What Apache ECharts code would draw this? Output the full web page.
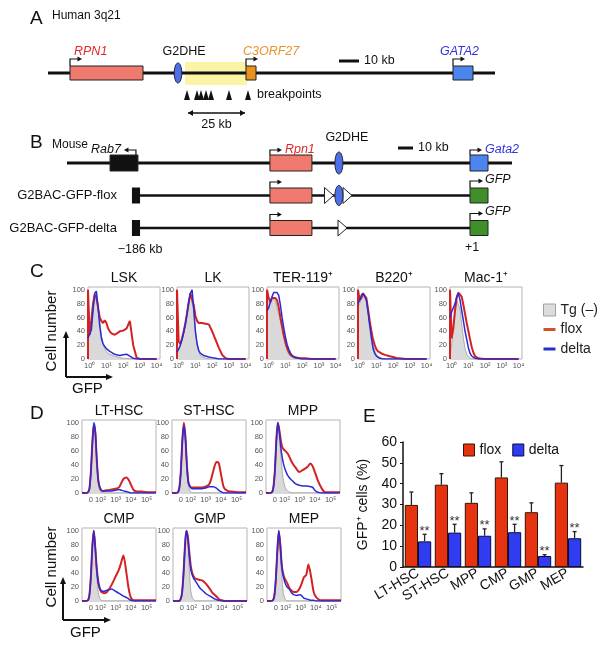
<!DOCTYPE html>
<html><head><meta charset="utf-8">
<script src="https://cdn.jsdelivr.net/npm/echarts@6/dist/echarts.min.js"></script>
<style>html,body{margin:0;padding:0;background:#fff}#c{width:616px;height:648px}</style>
</head><body><div id="c"></div>
<script>
// ---------------- DATA ----------------
// Panel A: human 3q21 (kb along drawn segment)
const humanSpanKb = [0, 223.5];
const humanGeneNames = ['RPN1', 'C3ORF27', 'GATA2'];
const humanGeneStartKb = [11, 99, 202.5];
const humanGeneEndKb = [47.5, 104, 212.5];
const humanEnhancerKb = [65];
const humanRegionKb = [68.5, 99.5];
const humanBreakpointsKb = [69.5, 74.5, 76.5, 79, 81.5, 90.5, 100];
const humanScaleBarKb = [145.5, 155.5];
const humanSpacingKb = [70, 98.5];
// Panel B: mouse locus and transgenes
const mouseSpanKb = [0, 296.7];
const mouseGeneNames = ['Rab7', 'Rpn1', 'Gata2'];
const mouseGeneStartKb = [28.7, 135.3, 268.7];
const mouseGeneEndKb = [47.3, 163.3, 280.7];
const mouseEnhancerKb = [181.3];
const mouseScaleBarKb = [220.7, 230.7];
const bacRows = ['G2BAC-GFP-flox', 'G2BAC-GFP-delta'];
const bacCapKb = [43.3, 48.7];
const bacRpn1Kb = [135.3, 163.3];
const bacGfpKb = [268.7, 280.7];
const floxLoxPKb = [174.7, 187];
const floxEnhancerKb = [181.3];
const deltaLoxPKb = [183.7];

// Panel C histograms (x = log10 GFP)
const cX = [-0.1,-0.1,0,0.1,0.2,0.3,0.4,0.5,0.6,0.7,0.8,0.9,1.0,1.1,1.2,1.3,1.4,1.5,1.6,1.8,2.0,2.2,2.4,2.6,2.8,3.0,3.5,4.0];
const cPanels = ['LSK', 'LK', 'TER-119⁺', 'B220⁺', 'Mac-1⁺'];
const lskGray = [33,33,35,45,70,92,95,78,55,35,22,15,11,8,7,6,5,4,3,2,1,1,0,0,0,0,0,0];
const lskBlue = [30,30,32,42,70,95,98,75,48,30,22,18,15,13,11,9,8,7,6,5,6,7,4,1,0,0,0,0];
const lskRed  = [0,100,35,55,80,93,88,75,60,55,52,56,52,44,40,37,35,35,36,40,41,44,55,20,2,0,0,0];
const lkGray  = [12,12,15,20,28,38,50,65,80,93,95,70,40,20,10,5,3,2,1,0,0,0,0,0,0,0,0,0];
const lkBlue  = [10,10,14,20,28,38,50,66,82,95,100,72,40,22,12,8,6,5,4,3,2,1,0,0,0,0,0,0];
const lkRed   = [0,100,25,22,30,40,52,66,82,95,97,78,62,55,52,53,52,53,51,50,40,28,16,6,1,0,0,0];
const terGray = [80,80,82,85,88,88,85,75,65,55,45,32,21,13,7,4,2,1,0,0,0,0,0,0,0,0,0,0];
const terBlue = [70,70,74,82,90,96,98,96,92,78,60,45,32,21,14,9,5,3,2,1,0,0,0,0,0,0,0,0];
const terRed  = [0,100,88,82,88,90,88,85,75,60,47,34,24,16,10,6,4,3,2,1.5,1,1,0.5,0,0,0,0,0];
const b220Gray = [75,75,80,88,93,94,85,70,52,35,22,12,7,4,2,1,0,0,0,0,0,0,0,0,0,0,0,0];
const b220Blue = [80,80,85,92,95,96,85,68,48,30,15,8,4,2,1,0.5,0,0,0,0,0,0,0,0,0,0,0,0];
const b220Red  = [0,100,85,88,95,96,88,72,55,40,28,20,14,11,9,8,7,6,5,4,3,1.5,1,0.5,0,0,0,0];
const macGray = [5,5,20,50,75,85,85,72,50,30,15,7,3,1,0,0,0,0,0,0,0,0,0,0,0,0,0,0];
const macBlue = [60,60,68,70,80,90,95,85,70,55,40,28,16,8,4,2,1,0,0,0,0,0,0,0,0,0,0,0];
const macRed  = [0,100,30,45,70,88,96,98,90,78,65,52,40,28,17,9,4,2,1,0.5,0,0,0,0,0,0,0,0];
const cTickValues = [0, 1, 2, 3, 4];
const cTickLabels = ['10⁰', '10¹', '10²', '10³', '10⁴'];

// Panel D histograms (x = fraction of biexponential display)
const dX = [0,.05,.08,.10,.12,.14,.16,.18,.20,.22,.24,.26,.28,.30,.33,.36,.40,.45,.50,.53,.56,.60,.63,.66,.70,.75,.80,.90,1.0];
const dPanels = ['LT-HSC', 'ST-HSC', 'MPP', 'CMP', 'GMP', 'MEP'];
const ltGray = [0,0,1,6,30,70,95,85,45,15,4,1,0,0,0,0,0,0,0,0,0,0,0,0,0,0,0,0,0];
const ltBlue = [0,0,1,6,30,72,100,88,48,18,8,4,3,3,3,3,3,4,5,4,3,2,1,0,0,0,0,0,0];
const ltRed  = [0,0,1,6,30,70,97,86,46,18,8,4,3,3,4,4,5,6,8,14,20,22,19,12,4,2,2,1,1];
const stGray = [0,0,1,8,32,72,95,78,38,12,4,1,0,0,0,0,0,0,0,0,0,0,0,0,0,0,0,0,0];
const stBlue = [0,0,1,8,32,75,96,80,42,16,10,7,6,6,6,6,6,7,9,9,9,7,4,2,0,0,0,0,0];
const stRed  = [0,0,1,8,32,75,100,82,42,16,10,8,8,8,8,8,8,9,12,20,32,44,43,28,8,3,2,1,1];
const mppGray = [0,0,1,8,32,72,95,80,55,30,15,8,4,2,1,0,0,0,0,0,0,0,0,0,0,0,0,0,0];
const mppBlue = [0,0,1,8,32,75,100,88,65,50,40,33,28,24,20,17,13,11,10,10,10,9,8,4,1,0,0,0,0];
const mppRed  = [0,0,1,8,32,75,100,90,75,65,62,60,58,55,48,42,36,30,33,35,37,42,38,30,18,7,1,1,1];
const cmpGray = [0,0,1,8,35,75,95,75,35,12,4,1,0,0,0,0,0,0,0,0,0,0,0,0,0,0,0,0,0];
const cmpBlue = [0,0,1,8,35,78,100,75,45,25,18,15,14,14,15,16,17,14,11,9,7,5,3,1,0,0,0,0,0];
const cmpRed  = [0,0,1,8,35,78,100,75,45,28,18,13,12,11,12,16,23,34,45,55,65,40,18,5,1,1,1,1,1];
const gmpGray = [0,0,0,2,10,35,72,95,85,45,15,5,2,0,0,0,0,0,0,0,0,0,0,0,0,0,0,0,0];
const gmpBlue = [0,0,0,2,10,35,75,100,90,65,45,37,32,29,24,19,15,10,7,5,3,1.5,1,0,0,0,0,0,0];
const gmpRed  = [0,0,0,2,10,35,75,100,92,70,50,40,35,32,31,30,29,24,17,12,9,5,2,1,0,0,0,0,0];
const mepGray = [0,0,1,8,30,68,88,70,35,12,4,1,0,0,0,0,0,0,0,0,0,0,0,0,0,0,0,0,0];
const mepBlue = [0,0,1,8,32,72,100,80,50,35,27,22,19,17,12,9,8,9,4,3,2,1,1,0,0,0,0,0,0];
const mepRed  = [0,0,1,8,32,72,100,80,50,38,32,28,24,19,15,13,13,20,34,37,52,32,13,6,2,1,1,1,1];
const dTickValues = [0.118, 0.25, 0.455, 0.66, 0.873];
const dTickLabels = ['0', '10²', '10³', '10⁴', '10⁵'];
const histYTicks = [0, 20, 40, 60, 80, 100];

// Panel E bars
const eCategories = ['LT-HSC', 'ST-HSC', 'MPP', 'CMP', 'GMP', 'MEP'];
const floxPct = [29.8, 39.5, 30.8, 43, 26.3, 40.5];
const floxErr = [6.2, 5.3, 4.8, 7.5, 4.5, 8.2];
const deltaPct = [12.3, 16.5, 15, 16.7, 5.3, 13.8];
const deltaErr = [3.4, 4, 3.3, 3.8, 0.6, 3.2];
const deltaSig = ['**', '**', '**', '**', '**', '**'];

// ---------------- STYLE / LAYOUT ----------------
const FONT = "'Liberation Sans', Arial, Helvetica, sans-serif";
const RED = '#d42222', BLUE = '#2a2ad6';
const LAB = 12.5;
const grids = [], xAxes = [], yAxes = [], series = [], graphics = [];

function gtext(text, x, y, size, opts) {
  opts = opts || {};
  graphics.push({type: 'text', x: x, y: y, rotation: opts.rotation || 0, silent: true,
    style: {text: text, font: (opts.italic ? 'italic ' : '') + size + 'px ' + FONT, fill: opts.color || '#111',
      align: opts.align || 'left', verticalAlign: 'middle', textAlign: opts.align || 'left', textVerticalAlign: 'middle'}});
}
function garrow(x1, y1, x2, y2) {
  graphics.push({type: 'line', silent: true, shape: {x1: x1, y1: y1, x2: x2, y2: y2}, style: {stroke: '#111', lineWidth: 2}});
  const dx = x2 - x1, dy = y2 - y1, L = Math.hypot(dx, dy), ux = dx / L, uy = dy / L;
  graphics.push({type: 'polygon', silent: true, shape: {points: [[x2 + ux * 3, y2 + uy * 3], [x2 - ux * 4 - uy * 3, y2 - uy * 4 + ux * 3], [x2 - ux * 4 + uy * 3, y2 - uy * 4 - ux * 3]]}, style: {fill: '#111'}});
}

function addHist(title, left, top, w, h, xs, gray, red, blue, xmin, xmax, tickVals, tickLabels, smooth) {
  const gi = grids.length;
  grids.push({left: left, top: top, width: w, height: h, show: true, borderColor: '#b4b4b4', borderWidth: 1, backgroundColor: '#fff'});
  xAxes.push({gridIndex: gi, type: 'value', min: xmin, max: xmax, axisLine: {show: false}, axisTick: {show: false}, splitLine: {show: false},
    axisLabel: {customValues: tickVals, fontSize: 7.5, color: '#555', margin: 3, fontFamily: FONT,
      formatter: function (v) { const k = tickVals.findIndex(t => Math.abs(t - v) < 1e-6); return k >= 0 ? tickLabels[k] : ''; }}});
  yAxes.push({gridIndex: gi, type: 'value', min: 0, max: 104, axisLine: {show: false}, axisTick: {show: false}, splitLine: {show: false},
    axisLabel: {customValues: histYTicks, fontSize: 7.5, color: '#555', margin: 3, fontFamily: FONT}});
  const mk = ys => xs.map((x, i) => [x, ys[i]]);
  series.push({name: 'Tg (–)', type: 'line', xAxisIndex: gi, yAxisIndex: gi, data: mk(gray), symbol: 'none', smooth: smooth, silent: true, z: 2,
    itemStyle: {color: '#d9d9d9'}, lineStyle: {color: '#9c9c9c', width: 0.8}, areaStyle: {color: '#d9d9d9', opacity: 1}});
  series.push({name: 'flox', type: 'line', xAxisIndex: gi, yAxisIndex: gi, data: mk(red), symbol: 'none', smooth: smooth, silent: true, z: 3,
    itemStyle: {color: RED}, lineStyle: {color: RED, width: 2}});
  series.push({name: 'delta', type: 'line', xAxisIndex: gi, yAxisIndex: gi, data: mk(blue), symbol: 'none', smooth: smooth, silent: true, z: 4,
    itemStyle: {color: BLUE}, lineStyle: {color: BLUE, width: 1.5}});
  gtext(title, left + w / 2, top - 9, 14, {align: 'center'});
}

// C panels
const cData = [[lskGray, lskRed, lskBlue], [lkGray, lkRed, lkBlue], [terGray, terRed, terBlue], [b220Gray, b220Red, b220Blue], [macGray, macRed, macBlue]];
const cLeft = [88, 177, 267, 358, 450];
cPanels.forEach((t, i) => addHist(t, cLeft[i], 287, 72, 72, cX, cData[i][0], cData[i][1], cData[i][2], -0.1, 4.2, cTickValues, cTickLabels, false));
// D panels
const dData = [[ltGray, ltRed, ltBlue], [stGray, stRed, stBlue], [mppGray, mppRed, mppBlue], [cmpGray, cmpRed, cmpBlue], [gmpGray, gmpRed, gmpBlue], [mepGray, mepRed, mepBlue]];
const dLeft = [82, 172, 266, 82, 173, 267], dTop = [420, 420, 420, 528, 528, 528];
dPanels.forEach((t, i) => addHist(t, dLeft[i], dTop[i], 74, 73, dX, dData[i][0], dData[i][1], dData[i][2], 0, 1, dTickValues, dTickLabels, 0.25));

// E panel
const E = grids.length;
grids.push({left: 403, top: 442, width: 180, height: 125});
xAxes.push({gridIndex: E, type: 'category', data: eCategories, axisLine: {lineStyle: {color: '#111', width: 1.5}}, axisTick: {show: false},
  axisLabel: {rotate: 30, interval: 0, fontSize: 14, color: '#111', margin: 5, fontFamily: FONT}});
yAxes.push({gridIndex: E, type: 'value', min: 0, max: 60, interval: 10, axisLine: {show: true, lineStyle: {color: '#111', width: 1.5}},
  axisTick: {show: true, length: 3, lineStyle: {color: '#111'}}, splitLine: {show: false},
  axisLabel: {fontSize: 14, color: '#111', margin: 6, fontFamily: FONT},
  name: 'GFP⁺ cells (%)', nameLocation: 'middle', nameGap: 33, nameTextStyle: {fontSize: 14, color: '#111', fontFamily: FONT}});
series.push({name: 'flox', type: 'bar', xAxisIndex: E, yAxisIndex: E, data: floxPct, barGap: '0%', barCategoryGap: '12%', silent: true,
  itemStyle: {color: '#e6330f', borderColor: '#3a1206', borderWidth: 1}});
series.push({name: 'delta', type: 'bar', xAxisIndex: E, yAxisIndex: E, data: deltaPct, silent: true,
  itemStyle: {color: '#2f3cf0', borderColor: '#0b0b40', borderWidth: 1}});
function errSeries(vals, errs, side, sig) {
  series.push({type: 'custom', xAxisIndex: E, yAxisIndex: E, silent: true, z: 5,
    data: vals.map((v, i) => [i, v, v + errs[i]]), encode: {x: 0, y: [1, 2]},
    renderItem: function (p, api) {
      const band = api.size([1, 0])[0], bw = band * 0.88 / 2;
      const base = api.coord([api.value(0), api.value(1)]), top = api.coord([api.value(0), api.value(2)]);
      const x = base[0] + side * bw / 2;
      const ch = [{type: 'line', shape: {x1: x, y1: base[1], x2: x, y2: top[1]}, style: {stroke: '#222', lineWidth: 1.3}},
                  {type: 'line', shape: {x1: x - 2, y1: top[1], x2: x + 2, y2: top[1]}, style: {stroke: '#222', lineWidth: 1.3}}];
      if (sig) ch.push({type: 'text', style: {text: sig[p.dataIndex], x: x, y: top[1] - 3, font: '13px ' + FONT, fill: '#333',
        align: 'center', verticalAlign: 'middle', textAlign: 'center', textVerticalAlign: 'middle'}});
      return {type: 'group', children: ch};
    }});
}
errSeries(floxPct, floxErr, -1, null);
errSeries(deltaPct, deltaErr, 1, deltaSig);

// ---------- Panels A and B (custom series on kb axes) ----------
const A = grids.length;
grids.push({left: 48, top: 63, width: 447, height: 20});
xAxes.push({gridIndex: A, type: 'value', min: humanSpanKb[0], max: humanSpanKb[1], show: false});
yAxes.push({gridIndex: A, type: 'value', min: -1, max: 1, show: false});
const B = grids.length;
grids.push({left: 67, top: 146.75, width: 445, height: 97.5});
xAxes.push({gridIndex: B, type: 'value', min: mouseSpanKb[0], max: mouseSpanKb[1], show: false});
yAxes.push({gridIndex: B, type: 'value', min: -0.5, max: 2.5, inverse: true, show: false});

function cs(g, data, render, z) {
  series.push({type: 'custom', xAxisIndex: g, yAxisIndex: g, silent: true, z: z || 2, data: data,
    encode: {x: [0, 1], y: 2}, renderItem: render});
}
function txt(text, x, y, size, color, align, italic) {
  return {type: 'text', style: {text: text, x: x, y: y, font: (italic ? 'italic ' : '') + size + 'px ' + FONT, fill: color,
    align: align, verticalAlign: 'middle', textAlign: align, textVerticalAlign: 'middle'}};
}
function tss(x, yTop, h, len, dir) {
  const y1 = yTop - h, x2 = x + dir * len;
  return [{type: 'polyline', shape: {points: [[x, yTop], [x, y1], [x2 - dir * 3, y1]]}, style: {stroke: '#111', lineWidth: 1.2, fill: null}},
          {type: 'polygon', shape: {points: [[x2, y1], [x2 - dir * 4.5, y1 - 2.6], [x2 - dir * 4.5, y1 + 2.6]]}, style: {fill: '#111'}}];
}
function pts(api, i0, i1, row) { return [api.coord([api.value(i0), row]), api.coord([api.value(i1), row])]; }
function hline(a, b, w) { return {type: 'line', shape: {x1: a[0], y1: a[1], x2: b[0], y2: b[1]}, style: {stroke: '#111', lineWidth: w}}; }
function dblArrow(a, b) {
  return [hline(a, b, 1.3),
    {type: 'polygon', shape: {points: [[a[0], a[1]], [a[0] + 5, a[1] - 3], [a[0] + 5, a[1] + 3]]}, style: {fill: '#111'}},
    {type: 'polygon', shape: {points: [[b[0], b[1]], [b[0] - 5, b[1] - 3], [b[0] - 5, b[1] + 3]]}, style: {fill: '#111'}}];
}

// A: yellow breakpoint region
cs(A, [[humanRegionKb[0], humanRegionKb[1], 0]], (p, api) => {
  const [a, b] = pts(api, 0, 1, 0);
  return {type: 'rect', shape: {x: a[0], y: a[1] - 11, width: b[0] - a[0], height: 23}, style: {fill: '#fbf4a6'}};
}, 1);
// A: backbone
cs(A, [[humanSpanKb[0], humanSpanKb[1], 0]], (p, api) => { const [a, b] = pts(api, 0, 1, 0); return hline(a, b, 3); }, 2);
// A: genes
const hFill = ['#f07a6e', '#e8921c', '#4d85ee'], hLab = ['#e02a2a', '#e8922a', '#3333dd'];
const hAlign = ['left', 'left', 'center'], hDx = [4, -3, 6.5];
cs(A, humanGeneStartKb.map((s, i) => [s, humanGeneEndKb[i], 0]), (p, api) => {
  const i = p.dataIndex, [a, b] = pts(api, 0, 1, 0);
  return {type: 'group', children: [
    {type: 'rect', shape: {x: a[0], y: a[1] - 7, width: b[0] - a[0], height: 14}, style: {fill: hFill[i], stroke: '#222', lineWidth: 1}},
    ...tss(a[0], a[1] - 7, 7, 12, 1),
    txt(humanGeneNames[i], a[0] + hDx[i], a[1] - 21, LAB, hLab[i], hAlign[i], true)]};
}, 3);
// A: enhancer
cs(A, humanEnhancerKb.map(k => [k, k, 0]), (p, api) => {
  const c = api.coord([api.value(0), 0]);
  return {type: 'group', children: [
    {type: 'ellipse', shape: {cx: c[0], cy: c[1], rx: 3.8, ry: 10}, style: {fill: '#4d6fe8', stroke: '#223', lineWidth: 1}},
    txt('G2DHE', c[0] + 6, c[1] - 21, LAB, '#111', 'center', false)]};
}, 4);
// A: breakpoints
cs(A, humanBreakpointsKb.map(k => [k, k, 0]), (p, api) => {
  const c = api.coord([api.value(0), 0]);
  const ch = [{type: 'polygon', shape: {points: [[c[0], c[1] + 17], [c[0] - 3, c[1] + 27], [c[0] + 3, c[1] + 27]]}, style: {fill: '#111'}}];
  if (p.dataIndex === humanBreakpointsKb.length - 1) ch.push(txt('breakpoints', c[0] + 9, c[1] + 22, LAB, '#111', 'left', false));
  return {type: 'group', children: ch};
}, 4);
// A: 25 kb span and scale bar
cs(A, [[humanSpacingKb[0], humanSpacingKb[1], 0]], (p, api) => {
  const [a, b] = pts(api, 0, 1, 0);
  const a2 = [a[0], a[1] + 40], b2 = [b[0], b[1] + 40];
  return {type: 'group', children: [...dblArrow(a2, b2), txt('25 kb', (a[0] + b[0]) / 2, a[1] + 52, LAB, '#111', 'center', false)]};
}, 4);
cs(A, [[humanScaleBarKb[0], humanScaleBarKb[1], 0]], (p, api) => {
  const [a, b] = pts(api, 0, 1, 0);
  return {type: 'group', children: [hline([a[0], a[1] - 12], [b[0], b[1] - 12], 3), txt('10 kb', b[0] + 5, a[1] - 12, LAB, '#111', 'left', false)]};
}, 4);

// ---------- Panel B ----------
cs(B, [[mouseSpanKb[0], mouseSpanKb[1], 0]], (p, api) => { const [a, b] = pts(api, 0, 1, 0); return hline(a, b, 3); }, 2);
const mFill = ['#111', '#f07a6e', '#4d85ee'], mLab = ['#111', '#e02a2a', '#3333dd'], mDir = [-1, 1, 1];
cs(B, mouseGeneStartKb.map((s, i) => [s, mouseGeneEndKb[i], 0]), (p, api) => {
  const i = p.dataIndex, [a, b] = pts(api, 0, 1, 0);
  const ax = mDir[i] > 0 ? a[0] : b[0] - 2;
  const tip = ax + mDir[i] * 12;
  return {type: 'group', children: [
    {type: 'rect', shape: {x: a[0], y: a[1] - 8, width: b[0] - a[0], height: 16}, style: {fill: mFill[i], stroke: '#222', lineWidth: 1}},
    ...tss(ax, a[1] - 8, 5, 12, mDir[i]),
    txt(mouseGeneNames[i], tip + mDir[i] * 3, a[1] - 13, LAB, mLab[i], mDir[i] > 0 ? 'left' : 'right', true)]};
}, 3);
cs(B, mouseEnhancerKb.map(k => [k, k, 0]), (p, api) => {
  const c = api.coord([api.value(0), 0]);
  return {type: 'group', children: [
    {type: 'ellipse', shape: {cx: c[0], cy: c[1], rx: 4, ry: 11}, style: {fill: '#4d6fe8', stroke: '#223', lineWidth: 1}},
    txt('G2DHE', c[0] + 8, c[1] - 25, LAB, '#111', 'center', false)]};
}, 4);
cs(B, [[mouseScaleBarKb[0], mouseScaleBarKb[1], 0]], (p, api) => {
  const [a, b] = pts(api, 0, 1, 0);
  return {type: 'group', children: [hline([a[0], a[1] - 15], [b[0], b[1] - 15], 3), txt('10 kb', b[0] + 5, a[1] - 15, LAB, '#111', 'left', false)]};
}, 4);
// transgene rows
cs(B, bacRows.map((r, i) => [bacCapKb[0], bacGfpKb[1], i + 1]), (p, api) => {
  const row = api.value(2);
  const cap0 = api.coord([bacCapKb[0], row]), cap1 = api.coord([bacCapKb[1], row]);
  const r0 = api.coord([bacRpn1Kb[0], row]), r1 = api.coord([bacRpn1Kb[1], row]);
  const g0 = api.coord([bacGfpKb[0], row]), g1 = api.coord([bacGfpKb[1], row]);
  const ch = [hline(cap1, g0, 2.5),
    {type: 'rect', shape: {x: cap0[0], y: cap0[1] - 8, width: cap1[0] - cap0[0], height: 16}, style: {fill: '#111'}},
    {type: 'rect', shape: {x: r0[0], y: r0[1] - 7.5, width: r1[0] - r0[0], height: 15}, style: {fill: '#f07a6e', stroke: '#222', lineWidth: 1}},
    ...tss(r0[0], r0[1] - 7.5, 6, 12, 1),
    {type: 'rect', shape: {x: g0[0], y: g0[1] - 7.5, width: g1[0] - g0[0], height: 15}, style: {fill: '#3f8f2a', stroke: '#222', lineWidth: 1}},
    ...tss(g0[0], g0[1] - 7.5, 7, 13, 1),
    txt('GFP', g0[0] + 15, g0[1] - 16, LAB, '#111', 'left', true),
    txt(bacRows[p.dataIndex], cap0[0] - 15, cap0[1], 13, '#111', 'right', false)];
  if (p.dataIndex === bacRows.length - 1) {
    ch.push(txt('\u2212186 kb', cap1[0], cap0[1] + 22, LAB, '#111', 'center', false));
    ch.push(txt('+1', g0[0] + 2, g0[1] + 20, LAB, '#111', 'center', false));
  }
  return {type: 'group', children: ch};
}, 3);
function loxP(c) {
  return {type: 'polygon', shape: {points: [[c[0] - 4.5, c[1] - 8], [c[0] + 4.5, c[1]], [c[0] - 4.5, c[1] + 8]]}, style: {fill: '#fff', stroke: '#222', lineWidth: 1}};
}
cs(B, floxLoxPKb.map(k => [k, k, 1]), (p, api) => loxP(api.coord([api.value(0), 1])), 4);
cs(B, floxEnhancerKb.map(k => [k, k, 1]), (p, api) => {
  const c = api.coord([api.value(0), 1]);
  return {type: 'ellipse', shape: {cx: c[0], cy: c[1], rx: 4, ry: 10}, style: {fill: '#4d6fe8', stroke: '#223', lineWidth: 1}};
}, 4);
cs(B, deltaLoxPKb.map(k => [k, k, 2]), (p, api) => loxP(api.coord([api.value(0), 2])), 4);

// ---------- annotations ----------
gtext('A', 30, 19, 19); gtext('Human 3q21', 52, 16, 12);
gtext('B', 30, 143, 19); gtext('Mouse', 52, 145, 12);
gtext('C', 30, 272, 19); gtext('D', 30, 414, 19); gtext('E', 363, 417, 19);
gtext('Cell number', 52, 331, 15, {rotation: Math.PI / 2, align: 'center'});
garrow(66, 377, 66, 334); garrow(66, 377, 110, 377);
gtext('GFP', 72, 389, 15);
gtext('Cell number', 52, 567, 15, {rotation: Math.PI / 2, align: 'center'});
garrow(63, 620, 63, 580); garrow(63, 620, 108, 620);
gtext('GFP', 70, 633, 15);

const option = {
  animation: false,
  textStyle: {fontFamily: FONT},
  grid: grids, xAxis: xAxes, yAxis: yAxes, series: series, graphic: graphics,
  legend: [
    {orient: 'vertical', left: 538, top: 298, itemWidth: 12, itemHeight: 12, itemGap: 5.5, selectedMode: false,
      textStyle: {fontSize: 14, color: '#222', fontFamily: FONT},
      data: [{name: 'Tg (–)', icon: 'rect', itemStyle: {color: '#dcdcdc', borderColor: '#a0a0a0', borderWidth: 1}},
             {name: 'flox', icon: 'path://M0,0L12,0L12,3L0,3Z', itemStyle: {color: '#d4522a', borderWidth: 0}},
             {name: 'delta', icon: 'path://M0,0L12,0L12,3L0,3Z', itemStyle: {color: '#2233cc', borderWidth: 0}}]},
    {left: 458, top: 438, itemWidth: 11, itemHeight: 12, itemGap: 11, selectedMode: false,
      textStyle: {fontSize: 14, color: '#111', fontFamily: FONT},
      data: [{name: 'flox', icon: 'rect', itemStyle: {color: '#e6330f', borderColor: '#3a1206', borderWidth: 1}},
             {name: 'delta', icon: 'rect', itemStyle: {color: '#2f3cf0', borderColor: '#0b0b40', borderWidth: 1}}]}
  ]
};
const chart = echarts.init(document.getElementById('c'));
chart.setOption(option);
</script></body></html>
